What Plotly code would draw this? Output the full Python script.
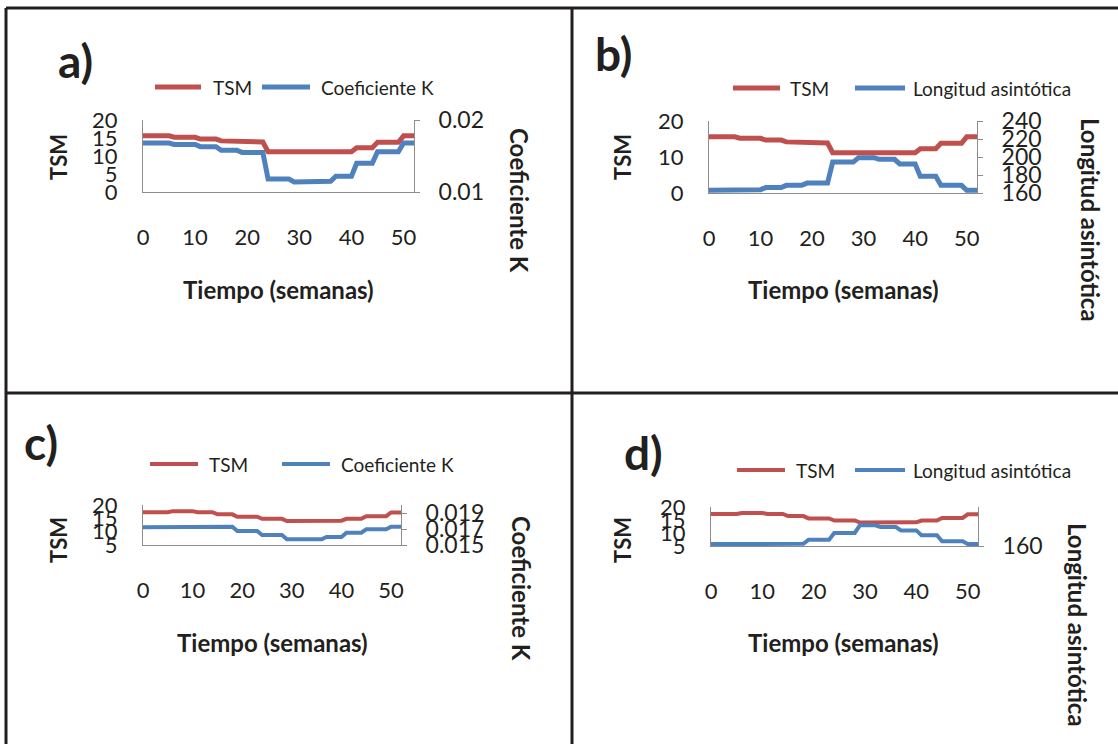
import plotly.graph_objects as go

W, H = 1118, 744

weeks = list(range(53))

tsm_ab = [15.6, 15.6, 15.6, 15.6, 15.6, 15.6,
          15.2, 15.2, 15.2, 15.2, 15.2,
          14.7, 14.7, 14.7, 14.7,
          14.2, 14.2, 14.2, 14.2,
          13.9, 13.9, 13.9, 13.9, 13.9,
          11.2, 11.2, 11.2, 11.2, 11.2,
          10.9, 10.9, 10.9, 10.9,
          10.9, 10.9, 10.9, 10.9,
          11.2, 11.2, 11.2, 11.2,
          12.3, 12.3, 12.3, 12.3,
          13.8, 13.8, 13.8, 13.8, 13.8,
          15.6, 15.6, 15.6]

k_a = [0.0168, 0.0168, 0.0168, 0.0168, 0.0168, 0.0168,
       0.0166, 0.0166, 0.0166, 0.0166, 0.0166,
       0.0163, 0.0163, 0.0163, 0.0163,
       0.0158, 0.0158, 0.0158, 0.0158,
       0.0155, 0.0155, 0.0155, 0.0155, 0.0155,
       0.0118, 0.0118, 0.0118, 0.0118, 0.0118,
       0.0114, 0.0114, 0.0114, 0.0114,
       0.0115, 0.0115, 0.0115, 0.0115,
       0.0122, 0.0122, 0.0122, 0.0122,
       0.0140, 0.0140, 0.0140, 0.0140,
       0.0156, 0.0156, 0.0156, 0.0156, 0.0156,
       0.0168, 0.0168, 0.0168]

l_b = [163.0, 163.0, 163.0, 163.0, 163.0, 163.0,
       163.7, 163.7, 163.7, 163.7, 163.7,
       166.0, 166.0, 166.0, 166.0,
       168.5, 168.5, 168.5, 168.5,
       171.0, 171.0, 171.0, 171.0, 171.0,
       194.4, 194.4, 194.4, 194.4, 194.4,
       199.3, 199.3, 199.3, 199.3,
       197.4, 197.4, 197.4, 197.4,
       192.3, 192.3, 192.3, 192.3,
       178.5, 178.5, 178.5, 178.5,
       168.5, 168.5, 168.5, 168.5, 168.5,
       163.0, 163.0, 163.0]

tsm_cd = [17.3, 17.3, 17.3, 17.3, 17.3, 17.3,
          17.7, 17.7, 17.7, 17.7, 17.7,
          17.3, 17.3, 17.3, 17.3,
          16.5, 16.5, 16.5, 16.5,
          15.6, 15.6, 15.6, 15.6, 15.6,
          14.8, 14.8, 14.8, 14.8, 14.8,
          14.0, 14.0, 14.0, 14.0,
          14.0, 14.0, 14.0, 14.0,
          14.1, 14.1, 14.1, 14.1,
          14.8, 14.8, 14.8, 14.8,
          15.8, 15.8, 15.8, 15.8, 15.8,
          17.2, 17.2, 17.2]

k_c = [0.01721, 0.01721, 0.01721, 0.01721, 0.01721, 0.01721,
       0.01721, 0.01721, 0.01721, 0.01721, 0.01721,
       0.01729, 0.01729, 0.01729, 0.01729,
       0.01729, 0.01729, 0.01729, 0.01729,
       0.01675, 0.01675, 0.01675, 0.01675, 0.01675,
       0.01625, 0.01625, 0.01625, 0.01625, 0.01625,
       0.01571, 0.01571, 0.01571, 0.01571,
       0.01571, 0.01571, 0.01571, 0.01571,
       0.01600, 0.01600, 0.01600, 0.01600,
       0.01654, 0.01654, 0.01654, 0.01654,
       0.01696, 0.01696, 0.01696, 0.01696, 0.01696,
       0.01729, 0.01729, 0.01729]

l_d = [164.0, 164.0, 164.0, 164.0, 164.0, 164.0,
       164.0, 164.0, 164.0, 164.0, 164.0,
       164.0, 164.0, 164.0, 164.0,
       164.5, 164.5, 164.5, 164.5,
       173.0, 173.0, 173.0, 173.0, 173.0,
       186.7, 186.7, 186.7, 186.7, 186.7,
       202.4, 202.4, 202.4, 202.4,
       199.0, 199.0, 199.0, 199.0,
       192.0, 192.0, 192.0, 192.0,
       181.9, 181.9, 181.9, 181.9,
       169.6, 169.6, 169.6, 169.6, 169.6,
       164.0, 164.0, 164.0]

x_ticks = [0, 10, 20, 30, 40, 50]

RED = "#C0504D"
BLUE = "#4F81BD"
TXT = "#231F20"
AX = "#8C8C8C"
FONT = "Lato"


def px_x(v):
    return v / W


def px_y(v):
    return 1 - v / H


fig = go.Figure()

panels = [
    ("a", "x", "y", "y2", (143, 414, 120, 192), tsm_ab, k_a, 5),
    ("b", "x2", "y3", "y4", (709, 977, 121, 193), tsm_ab, l_b, 5),
    ("c", "x3", "y5", "y6", (143, 401, 505, 545), tsm_cd, k_c, 4),
    ("d", "x4", "y7", "y8", (711, 978, 507, 546), tsm_cd, l_d, 4),
]

for name, xa, yl, yr, dom, red, blue, lw in panels:
    fig.add_trace(go.Scatter(x=weeks, y=red, mode="lines", xaxis=xa, yaxis=yl,
                             line=dict(color=RED, width=lw), showlegend=False,
                             hoverinfo="skip"))
    fig.add_trace(go.Scatter(x=weeks, y=blue, mode="lines", xaxis=xa, yaxis=yr,
                             line=dict(color=BLUE, width=lw), showlegend=False,
                             hoverinfo="skip"))

tickfont = dict(family=FONT, size=22, color=TXT)
rtickfont = dict(family=FONT, size=23, color=TXT)


def xaxis_cfg(dom, yname):
    x0, x1, yt, yb = dom
    return dict(domain=[px_x(x0), px_x(x1)], range=[0, 52], anchor=yname,
                showgrid=False, zeroline=False, showline=True, linecolor=AX,
                linewidth=1, ticks="", tickvals=x_ticks, tickfont=tickfont,
                ticklabelstandoff=26, automargin=False)


def yleft_cfg(dom, xname, rng, vals):
    x0, x1, yt, yb = dom
    return dict(domain=[px_y(yb), px_y(yt)], range=rng, anchor=xname,
                showgrid=False, zeroline=False, showline=True, linecolor=AX,
                linewidth=1, ticks="", tickvals=vals, tickfont=tickfont,
                ticklabelstandoff=20, automargin=False)


def yright_cfg(overlay, xname, rng, vals, texts):
    return dict(overlaying=overlay, side="right", range=rng, anchor=xname,
                showgrid=False, zeroline=False, showline=True, linecolor=AX,
                linewidth=1, ticks="outside", ticklen=5, tickcolor=AX,
                tickvals=vals, ticktext=texts, tickfont=rtickfont,
                ticklabelstandoff=14, automargin=False)


dA, dB, dC, dD = [p[4] for p in panels]

fig.update_layout(
    width=W, height=H,
    margin=dict(l=0, r=0, t=0, b=0, pad=0, autoexpand=False),
    paper_bgcolor="white", plot_bgcolor="white",
    xaxis=xaxis_cfg(dA, "y"),
    xaxis2=xaxis_cfg(dB, "y3"),
    xaxis3=xaxis_cfg(dC, "y5"),
    xaxis4=xaxis_cfg(dD, "y7"),
    yaxis=yleft_cfg(dA, "x", [0, 20], [0, 5, 10, 15, 20]),
    yaxis2=yright_cfg("y", "x", [0.01, 0.02], [0.01, 0.02], ["0.01", "0.02"]),
    yaxis3=yleft_cfg(dB, "x2", [0, 20], [0, 10, 20]),
    yaxis4=yright_cfg("y3", "x2", [160, 240], [160, 180, 200, 220, 240],
                      ["160", "180", "200", "220", "240"]),
    yaxis5=yleft_cfg(dC, "x3", [5, 20], [5, 10, 15, 20]),
    yaxis6=yright_cfg("y5", "x3", [0.015, 0.020], [0.015, 0.017, 0.019],
                      ["0.015", "0.017", "0.019"]),
    yaxis7=yleft_cfg(dD, "x4", [5, 20], [5, 10, 15, 20]),
    yaxis8=yright_cfg("y7", "x4", [160, 240], [160], ["160"]),
    showlegend=False,
)

annotations = []
shapes = []


def text(t, x, y, size, bold=False, angle=0, xanchor="center"):
    annotations.append(dict(
        text=("<b>%s</b>" % t) if bold else t,
        x=px_x(x), y=px_y(y), xref="paper", yref="paper",
        xanchor=xanchor, yanchor="middle", showarrow=False, textangle=angle,
        font=dict(family=FONT, size=size, color=TXT)))


def legend_line(x0, x1, y, color, w):
    shapes.append(dict(type="line", xref="paper", yref="paper",
                       x0=px_x(x0), x1=px_x(x1), y0=px_y(y), y1=px_y(y),
                       line=dict(color=color, width=w)))


# panel labels
text("a)", 75, 60, 46, bold=True)
text("b)", 613, 53, 46, bold=True)
text("c)", 41, 442, 46, bold=True)
text("d)", 643, 452, 46, bold=True)

# axis titles
for cx, cy in [(58, 157), (622, 157), (58, 540), (622, 540)]:
    text("TSM", cx, cy, 22, bold=True, angle=-90)
text("Coeficiente K", 520, 200, 24, bold=True, angle=90)
text("Longitud asintótica", 1090, 220, 24, bold=True, angle=90)
text("Coeficiente K", 522, 588, 24, bold=True, angle=90)
text("Longitud asintótica", 1078, 625, 24, bold=True, angle=90)
text("Tiempo (semanas)", 278, 289, 24, bold=True)
text("Tiempo (semanas)", 843, 289, 24, bold=True)
text("Tiempo (semanas)", 272, 642, 24, bold=True)
text("Tiempo (semanas)", 843, 642, 24, bold=True)

# legends
legends = [
    (87, 155, 201, 211, 262, 310, 319, "Coeficiente K", 5),
    (88, 733, 780, 788, 855, 905, 911, "Longitud asintótica", 5),
    (464, 150, 198, 207, 282, 330, 339, "Coeficiente K", 4),
    (470, 737, 785, 794, 855, 905, 911, "Longitud asintótica", 4),
]
for ly, r0, r1, rt, b0, b1, bt, lab, w in legends:
    legend_line(r0, r1, ly, RED, w)
    text("TSM", rt, ly, 19, xanchor="left")
    legend_line(b0, b1, ly, BLUE, w)
    text(lab, bt, ly, 19, xanchor="left")

# table borders
BC = "#231F20"
for x0, y0, x1, y1 in [(6, 8, W + 5, 8), (6, 8, 6, H + 5), (572, 8, 572, H + 5),
                       (6, 393, W + 5, 393)]:
    shapes.append(dict(type="line", xref="paper", yref="paper",
                       x0=px_x(x0), x1=px_x(x1), y0=px_y(y0), y1=px_y(y1),
                       line=dict(color=BC, width=3)))

fig.update_layout(annotations=annotations, shapes=shapes)

fig.write_html("out.html")
